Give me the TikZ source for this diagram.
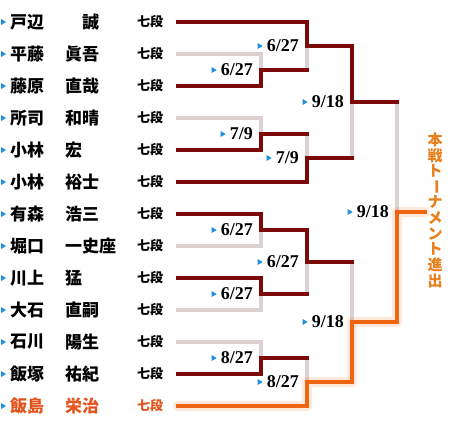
\documentclass[tikz,border=0pt]{standalone}
\usepackage{fontspec}
\usepackage{tikz}
\usetikzlibrary{positioning}
\newfontfamily\jp{Noto Sans CJK JP}
\newfontfamily\datefont{Liberation Serif}
\definecolor{winred}{HTML}{7D0A0A}
\definecolor{losegray}{HTML}{DDD0D0}
\definecolor{advorange}{HTML}{EF6410}
\definecolor{nameorange}{HTML}{E4531C}
\definecolor{vertorange}{HTML}{E8801E}
\definecolor{markblue}{HTML}{1E90E0}
\tikzset{
  win/.style={winred, line width=4pt, line cap=rect},
  lose/.style={losegray, line width=4pt, line cap=rect},
  adv/.style={advorange, line width=4pt, line cap=rect},
  glow/.style={advorange, line width=10pt, opacity=0.15, line cap=round, line join=round},
  player/.style={anchor=west, inner sep=0pt, font=\jp\bfseries\fontsize{17}{17}\selectfont},
  rank/.style={anchor=west, inner sep=0pt, font=\jp\bfseries\fontsize{13}{13}\selectfont},
  date/.style={inner sep=0pt, font=\datefont\bfseries\fontsize{18}{18}\selectfont},
  tri/.pic={\fill[markblue] (-5,-3) -- (0,0) -- (-5,3) -- cycle;}
}

\begin{document}
\begin{tikzpicture}[x=1pt,y=-1pt] %1 unit = 1 px of the 460x428 sheet
\useasboundingbox (0,0) rectangle (460,428);

% players
\foreach \i/\sur/\giv in {0/戸辺/　誠, 1/平藤/眞吾, 2/藤原/直哉, 3/所司/和晴,
  4/小林/宏, 5/小林/裕士, 6/有森/浩三, 7/堀口/一史座, 8/川上/猛,
  9/大石/直嗣, 10/石川/陽生, 11/飯塚/祐紀} {
\pic at (6, {22+32*\i}) {tri};
\node[player] (s\i) at (10, {22+32*\i}) {\sur};
\node[player] (g\i) at (65, {22+32*\i}) {\giv};
\node[rank] (r\i) at (137, {22+32*\i}) {七段};
\coordinate (e\i) at (178, {22+32*\i});
}
\pic at (6,406) {tri};
\node[player, nameorange] (s12) at (10,406) {飯島};
\node[player, nameorange] (g12) at (65,406) {栄治};
\node[rank, nameorange] (r12) at (137,406) {七段};
\coordinate (e12) at (178,406);

% matches
\coordinate (a1) at (261,70);
\coordinate (a2) at (261,134);
\coordinate (a3) at (261,230);
\coordinate (a4) at (261,294);
\coordinate (a5) at (261,358);
\coordinate (b1) at (307,46);
\coordinate (b2) at (307,158);
\coordinate (b3) at (307,262);
\coordinate (b4) at (307,382);
\coordinate (c1) at (352,102);
\coordinate (c2) at (352,322);
\coordinate (d) at (397,212);
\coordinate (fin) at (425,212);

% lost
\draw[lose] (e1) -| (a1);
\draw[lose] (a1 -| b1) -- (b1);
\draw[lose] (e3) -| (a2);
\draw[lose] (a2 -| b2) -- (b2);
\draw[lose] (b2 -| c1) -- (c1);
\draw[lose] (c1 -| d) -- (d);
\draw[lose] (e7) -| (a3);
\draw[lose] (e9) -| (a4);
\draw[lose] (a4 -| b3) -- (b3);
\draw[lose] (b3 -| c2) -- (c2);
\draw[lose] (e10) -| (a5);
\draw[lose] (a5 -| b4) -- (b4);

% won
\draw[win] (e0) -| (b1) -| (c1) -- (c1 -| d);
\draw[win] (e2) -| (a1) -- (a1 -| b1);
\draw[win] (e4) -| (a2) -- (a2 -| b2);
\draw[win] (e5) -| (b2) -- (b2 -| c1);
\draw[win] (e6) -| (a3) -| (b3) -- (b3 -| c2);
\draw[win] (e8) -| (a4) -- (a4 -| b3);
\draw[win] (e11) -| (a5) -- (a5 -| b4);

% through to the main tournament
\draw[glow] (e12) -| (b4) -| (c2) -| (d) -- (fin);
\draw[adv] (e12) -| (b4) -| (c2) -| (d) -- (fin);

% dates
\foreach \m/\t in {a1/6\slash27, a2/7\slash9, a3/6\slash27, a4/6\slash27, a5/8\slash27,
  b1/6\slash27, b2/7\slash9, b3/6\slash27, b4/8\slash27,
  c1/9\slash18, c2/9\slash18, d/9\slash18} {
\node[date, left=8 of \m] (t\m) {\t};
\pic at ([xshift=-4]t\m.west) {tri};
}

\foreach \ch/\r [count=\k from 0] in {本/0, 戦/0, ト/0, ー/-90, ナ/0, メ/0, ン/0, ト/0, 進/0, 出/0} {
\node[inner sep=0pt, vertorange, rotate=\r, font=\jp\bfseries\fontsize{15}{15}\selectfont]
  (v\k) at (435, {140+15.6*\k}) {\ch};
}
\end{tikzpicture}
\end{document}
